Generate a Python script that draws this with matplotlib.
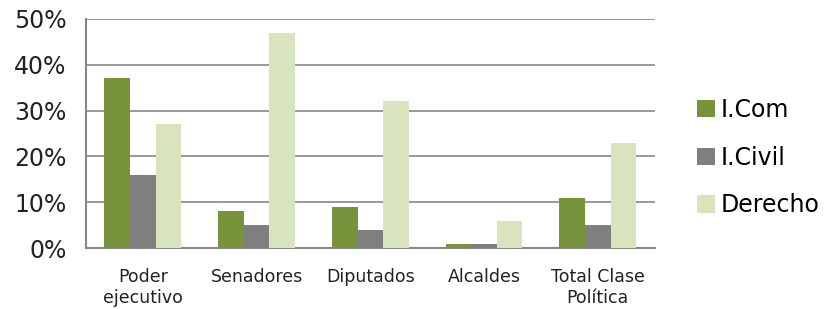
import matplotlib.pyplot as plt
import numpy as np

categories = ["Poder\nejecutivo", "Senadores", "Diputados", "Alcaldes", "Total Clase\nPolítica"]
icom = [37, 8, 9, 1, 11]
icivil = [16, 5, 4, 1, 5]
derecho = [27, 47, 32, 6, 23]
series = ["I.Com", "I.Civil", "Derecho"]
colors = ["#77933C", "#7F7F7F", "#D7E4BD"]

fig = plt.figure(figsize=(8.35, 3.09), dpi=100)
ax = fig.add_axes([0.103, 0.197, 0.681, 0.742])

x = np.arange(len(categories))
w = 0.225
for i, (vals, name, c) in enumerate(zip([icom, icivil, derecho], series, colors)):
    ax.bar(x + (i - 1) * w, vals, w, color=c, label=name, zorder=3)

ax.set_xlim(-0.5, len(categories) - 0.5)
ax.set_ylim(0, 50)
ax.set_yticks(range(0, 51, 10))
ax.set_yticklabels([f"{v}%" for v in range(0, 51, 10)], fontsize=17, color="#222222")
ax.set_xticks(x)
ax.set_xticklabels(categories, fontsize=12.5, color="#222222", linespacing=1.25)
ax.tick_params(axis="x", length=0, pad=14)
ax.tick_params(axis="y", length=0, pad=14)
ax.grid(axis="y", color="#868686", linewidth=1.2, zorder=0)
for s in ["top", "right"]:
    ax.spines[s].set_visible(False)
for s in ["left", "bottom"]:
    ax.spines[s].set_color("#868686")
    ax.spines[s].set_linewidth(1.5)

fig.legend(loc="center left", bbox_to_anchor=(0.835, 0.49), frameon=False,
           fontsize=17, handlelength=0.75, handleheight=0.75, handletextpad=0.25,
           labelspacing=1.0, borderaxespad=0, borderpad=0)

fig.savefig("out.png")
